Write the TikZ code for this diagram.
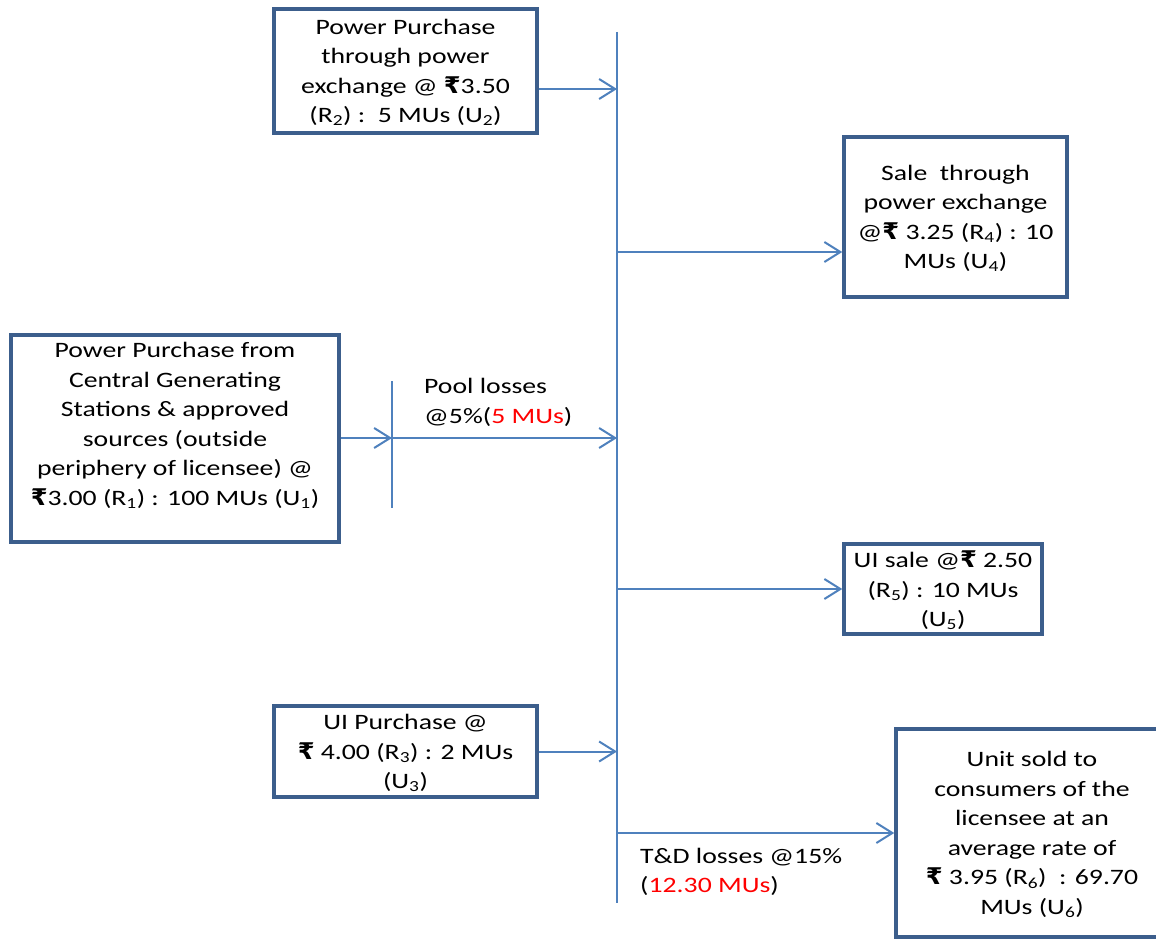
\documentclass[tikz,border=0pt]{standalone}
\usepackage{fontspec}
\usepackage{xcolor}
\setmainfont{Carlito}[FakeStretch=1.26]
\newfontfamily\rupeefont{DejaVu Sans}[FakeStretch=1.05]
\usetikzlibrary{arrows.meta}
\definecolor{BoxBlue}{HTML}{3C5E8C}
\definecolor{LineBlue}{HTML}{4F81BD}
\definecolor{LossRed}{HTML}{FF0000}
\newcommand{\rs}{{\rupeefont\bfseries\fontsize{23}{29.5}\selectfont ₹}}
\newcommand{\idx}[1]{\textsubscript{#1}}

\begin{document}
\begin{tikzpicture}[
  x=1pt,y=-1pt,
  font=\fontsize{22}{29.5}\selectfont,
  box/.style={rectangle,draw=BoxBlue,line width=3.5pt,fill=white,align=center,inner sep=0pt,text depth=0pt},
  arrow/.style={-{Straight Barb[length=16pt,width=20pt]},line width=2pt,color=LineBlue},
  bar/.style={line width=2pt,color=LineBlue},
  loss/.style={align=left,inner sep=0pt,anchor=west}
]
\useasboundingbox (0,0) rectangle (1156,941);
\clip (0,0) rectangle (1156,941);
\node[box,minimum width=263pt,minimum height=124pt] (exchbuy) at (405.5,71) {Power Purchase\\through power\\exchange @ \rs3.50\\(R\idx{2}) :\ \ 5 MUs (U\idx{2})};
\node[box,minimum width=328pt,minimum height=207pt] (central) at (175,438.5) {Power Purchase from\\Central Generating\\Stations \& approved\\sources (outside\\periphery of licensee) @\\\rs3.00 (R\idx{1}) : 100 MUs (U\idx{1})\\\strut};
\node[box,minimum width=263pt,minimum height=91pt] (uibuy) at (405.5,751.5) {UI Purchase @\\\rs\ 4.00 (R\idx{3}) : 2 MUs\\(U\idx{3})};
\node[box,minimum width=223pt,minimum height=160pt] (exchsale) at (955.5,217) {Sale\ \ through\\power exchange\\@\rs\ 3.25 (R\idx{4}) : 10\\MUs (U\idx{4})};
\node[box,minimum width=198pt,minimum height=90pt] (uisale) at (943,589) {UI sale @\rs\ 2.50\\(R\idx{5}) : 10 MUs\\(U\idx{5})};
\node[box,minimum width=272pt,minimum height=208pt] (consumers) at (1032,833) {Unit sold to\\consumers of the\\licensee at an\\average rate of\\\rs\ 3.95 (R\idx{6})\ \ : 69.70\\MUs (U\idx{6})};

% bus bar and pool split
\coordinate (bustop) at (617,32);
\coordinate (busbot) at (617,903);
\draw[bar] (bustop) -- (busbot);
\coordinate (split) at (392,438);
\coordinate (splittop) at (392,381);
\coordinate (splitbot) at (392,508);
\draw[bar] (splittop) -- (splitbot);

% flows
\coordinate (inpx) at (617,89);
\coordinate (outpx) at (617,252);
\draw[arrow] (exchbuy.east |- inpx) -- (inpx);
\draw[arrow] (central.east |- split) -- (split);
\draw[arrow] (split) -- (split -| bustop);
\draw[arrow] (uibuy.east) -- (uibuy.east -| bustop);
\draw[arrow] (outpx) -- (outpx -| exchsale.west);
\draw[arrow] (uisale.west -| bustop) -- (uisale.west);
\draw[arrow] (consumers.west -| bustop) -- (consumers.west);

\node[loss] (pool) at (424,402.5) {Pool losses\\@5\%(\textcolor{LossRed}{5 MUs})};
\node[loss] (tdloss) at (640,872) {T\&D losses @15\%\\(\textcolor{LossRed}{12.30 MUs})};
\end{tikzpicture}
\end{document}
